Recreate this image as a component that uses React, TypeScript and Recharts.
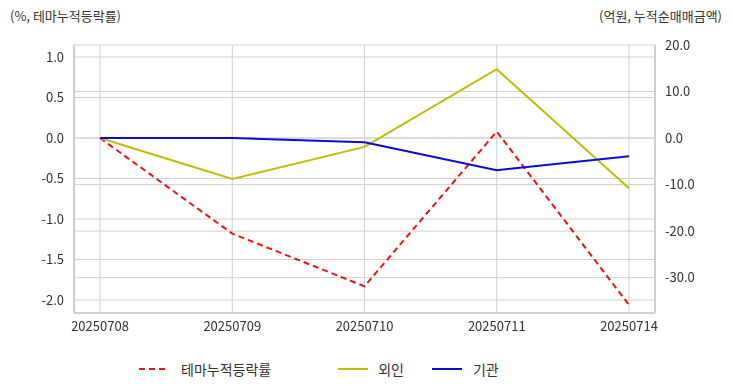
import React from 'react';
import { ComposedChart, Line, XAxis, YAxis, CartesianGrid } from 'recharts';

const dates = ['20250708', '20250709', '20250710', '20250711', '20250714'];
const themeReturn = [0.0, -1.18, -1.83, 0.08, -2.06];
const foreign = [0.0, -8.8, -1.9, 14.8, -10.8];
const institution = [0.0, 0.0, -0.9, -6.9, -3.9];
const leftTicks = [1.0, 0.5, 0.0, -0.5, -1.0, -1.5, -2.0];
const rightTicks = [20, 10, 0, -10, -20, -30];

const seriesNames = ['테마누적등락률', '외인', '기관'];
const colors = ['#ee1111', '#c0bc00', '#0a0ad8'];

const data = dates.map((d, i) => ({
  date: d,
  theme: themeReturn[i],
  foreign: foreign[i],
  inst: institution[i],
}));

const FONT = '"Noto Sans CJK KR", "Noto Sans", sans-serif';
const tickStyle = { fontSize: 13, fill: '#333', fontFamily: FONT };
const gridColor = '#cfcfcf';
const PLOT_LEFT = 74;
const PLOT_RIGHT = 655;

const GridTick = (props: any) => {
  const { x, y, payload, textAnchor } = props;
  return (
    <g>
      <line
        x1={PLOT_LEFT}
        x2={PLOT_RIGHT}
        y1={y}
        y2={y}
        stroke={gridColor}
        strokeWidth={1}
        style={{ mixBlendMode: 'darken' }}
      />
      <text x={x} y={y} dy="0.355em" textAnchor={textAnchor} fontSize={13} fill="#333" fontFamily={FONT}>
        {Number(payload.value).toFixed(1)}
      </text>
    </g>
  );
};

export default function App() {
  return (
    <div style={{ position: 'absolute', left: 0, top: 0, width: 732, height: 392, background: '#fff', fontFamily: FONT }}>
      <div style={{ position: 'absolute', left: 10, top: 6, fontSize: 13, color: '#333' }}>(%, 테마누적등락률)</div>
      <div style={{ position: 'absolute', right: 10, top: 6, fontSize: 13, color: '#333' }}>(억원, 누적순매매금액)</div>
      <ComposedChart
        width={732}
        height={392}
        data={data}
        margin={{ top: 45, right: 0, left: 0, bottom: 49 }}
        style={{ isolation: 'isolate' }}
      >
        <CartesianGrid stroke={gridColor} strokeWidth={1} vertical={true} horizontal={false} />
        <XAxis
          dataKey="date"
          padding={{ left: 26, right: 26 }}
          tick={tickStyle}
          tickLine={false}
          axisLine={{ stroke: '#cfcfcf', strokeWidth: 2 }}
          tickMargin={3}
          height={30}
          interval={0}
        />
        <YAxis
          yAxisId={0}
          orientation="left"
          width={74}
          domain={[-2.16, 1.148]}
          ticks={leftTicks}
          tick={<GridTick />}
          tickLine={false}
          axisLine={{ stroke: '#cfcfcf', strokeWidth: 2 }}
          tickMargin={4}
          interval={0}
          allowDataOverflow
        />
        <YAxis
          yAxisId={1}
          orientation="right"
          width={77}
          domain={[-37.6, 20]}
          ticks={rightTicks}
          tick={<GridTick />}
          tickLine={false}
          axisLine={{ stroke: '#cfcfcf', strokeWidth: 2 }}
          tickMargin={4}
          interval={0}
          allowDataOverflow
        />
        <Line yAxisId={0} dataKey="theme" name={seriesNames[0]} stroke={colors[0]} strokeWidth={2} strokeDasharray="6 4" dot={false} isAnimationActive={false} />
        <Line yAxisId={1} dataKey="foreign" name={seriesNames[1]} stroke={colors[1]} strokeWidth={2} dot={false} isAnimationActive={false} />
        <Line yAxisId={1} dataKey="inst" name={seriesNames[2]} stroke={colors[2]} strokeWidth={2} dot={false} isAnimationActive={false} />
      </ComposedChart>
      <div style={{ position: 'absolute', left: 139, top: 359, display: 'flex', alignItems: 'center', fontSize: 14, color: '#333', whiteSpace: 'nowrap' }}>
        <svg width={30} height={4} style={{ marginRight: 12 }}>
          <line x1={0} y1={2} x2={30} y2={2} stroke={colors[0]} strokeWidth={2} strokeDasharray="6 4" />
        </svg>
        <span style={{ marginRight: 67 }}>{seriesNames[0]}</span>
        <svg width={30} height={4} style={{ marginRight: 10 }}>
          <line x1={0} y1={2} x2={30} y2={2} stroke={colors[1]} strokeWidth={2} />
        </svg>
        <span style={{ marginRight: 28 }}>{seriesNames[1]}</span>
        <svg width={30} height={4} style={{ marginRight: 11 }}>
          <line x1={0} y1={2} x2={30} y2={2} stroke={colors[2]} strokeWidth={2} />
        </svg>
        <span>{seriesNames[2]}</span>
      </div>
    </div>
  );
}
